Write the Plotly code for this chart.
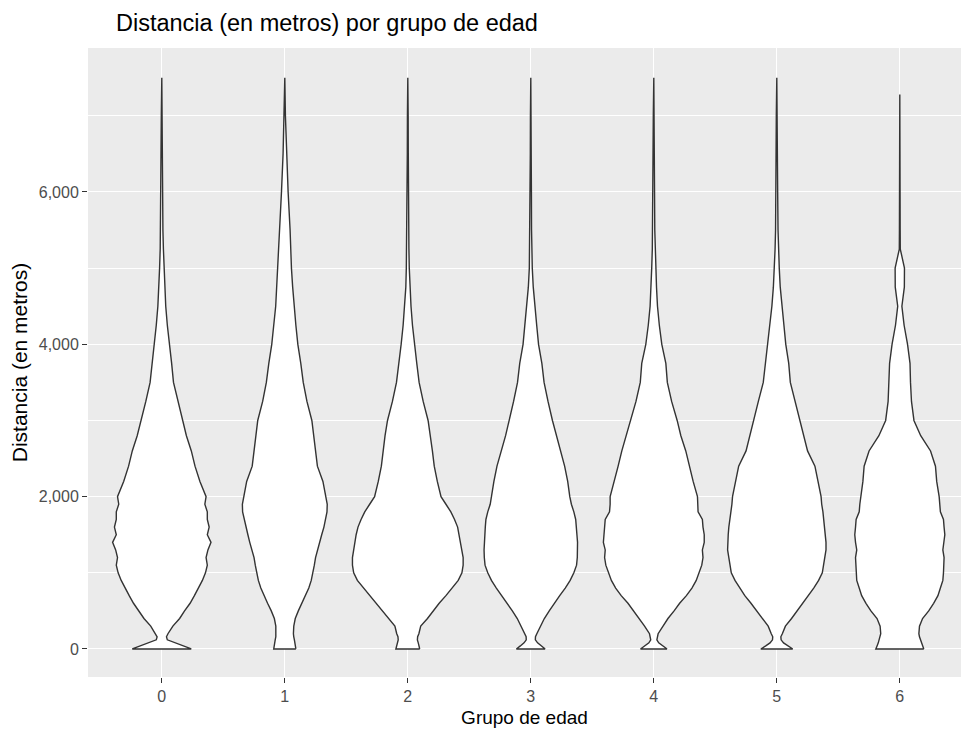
import plotly.graph_objects as go

# Age groups on the x axis
groups = ["0", "1", "2", "3", "4", "5", "6"]

# Distance levels (metres) at which each violin's half-width is given
levels = [0, 40, 80, 120, 160, 200, 300, 400, 500, 600, 700, 800, 900, 1000,
          1100, 1200, 1300, 1400, 1500, 1600, 1700, 1800, 1900, 2000, 2200,
          2400, 2600, 2800, 3000, 3250, 3500, 3750, 4000, 4250, 4500, 4750,
          5000, 5250, 5500, 6000, 6500, 7000]

# Half-width of each violin (in category units) at the levels above
hw_g0 = [0.24, 0.18, 0.11, 0.045, 0.038, 0.05, 0.09, 0.145, 0.185, 0.23, 0.265,
         0.30, 0.33, 0.355, 0.37, 0.36, 0.375, 0.40, 0.37, 0.385, 0.37, 0.37,
         0.35, 0.36, 0.31, 0.27, 0.24, 0.20, 0.17, 0.13, 0.095, 0.08, 0.06,
         0.045, 0.032, 0.024, 0.018, 0.013, 0.009, 0.006, 0.005, 0.004]
hw_g1 = [0.09, 0.088, 0.083, 0.078, 0.073, 0.07, 0.073, 0.085, 0.11, 0.14, 0.17,
         0.195, 0.215, 0.23, 0.24, 0.25, 0.265, 0.285, 0.30, 0.318, 0.33, 0.343,
         0.345, 0.335, 0.31, 0.265, 0.25, 0.235, 0.22, 0.18, 0.15, 0.13, 0.106,
         0.09, 0.074, 0.064, 0.054, 0.049, 0.043, 0.027, 0.014, 0.005]
hw_g2 = [0.097, 0.093, 0.085, 0.078, 0.08, 0.09, 0.105, 0.16, 0.205, 0.255, 0.31,
         0.36, 0.41, 0.44, 0.45, 0.45, 0.44, 0.43, 0.42, 0.405, 0.38, 0.35,
         0.31, 0.27, 0.24, 0.215, 0.20, 0.185, 0.165, 0.125, 0.092, 0.073, 0.054,
         0.038, 0.026, 0.016, 0.012, 0.009, 0.007, 0.005, 0.004, 0.003]
hw_g3 = [0.117, 0.085, 0.055, 0.037, 0.038, 0.049, 0.08, 0.11, 0.15, 0.19, 0.235,
         0.28, 0.32, 0.35, 0.372, 0.378, 0.38, 0.38, 0.375, 0.37, 0.365, 0.35,
         0.33, 0.317, 0.30, 0.275, 0.24, 0.205, 0.176, 0.14, 0.108, 0.09, 0.063,
         0.048, 0.033, 0.02, 0.012, 0.008, 0.006, 0.005, 0.004, 0.003]
hw_g4 = [0.108, 0.07, 0.04, 0.025, 0.028, 0.035, 0.075, 0.115, 0.165, 0.21, 0.265,
         0.31, 0.345, 0.366, 0.39, 0.40, 0.395, 0.41, 0.41, 0.40, 0.395, 0.36,
         0.355, 0.355, 0.32, 0.29, 0.26, 0.22, 0.19, 0.145, 0.11, 0.098, 0.065,
         0.045, 0.03, 0.022, 0.017, 0.012, 0.008, 0.006, 0.005, 0.004]
hw_g5 = [0.13, 0.09, 0.055, 0.035, 0.033, 0.045, 0.07, 0.12, 0.165, 0.21, 0.26,
         0.30, 0.34, 0.37, 0.38, 0.39, 0.40, 0.40, 0.395, 0.39, 0.385, 0.375,
         0.365, 0.36, 0.335, 0.31, 0.25, 0.22, 0.19, 0.15, 0.11, 0.097, 0.073,
         0.058, 0.04, 0.028, 0.02, 0.014, 0.01, 0.007, 0.005, 0.004]
hw_g6 = [0.195, 0.185, 0.175, 0.168, 0.16, 0.155, 0.16, 0.185, 0.235, 0.275, 0.31,
         0.33, 0.35, 0.355, 0.355, 0.36, 0.35, 0.36, 0.366, 0.36, 0.355, 0.33,
         0.325, 0.32, 0.30, 0.29, 0.25, 0.17, 0.115, 0.095, 0.087, 0.083, 0.063,
         0.035, 0.017, 0.037, 0.038, 0.004, 0.003, 0.003, 0.003, 0.002]

half_widths = [hw_g0, hw_g1, hw_g2, hw_g3, hw_g4, hw_g5, hw_g6]

# Largest distance observed in each group (top of each violin)
top_dist = [7500, 7500, 7500, 7500, 7500, 7500, 7280]

y_ticks = [0, 2000, 4000, 6000]

FONT = "Liberation Sans, Arial, sans-serif"

fig = go.Figure()

for i, (name, hw, top) in enumerate(zip(groups, half_widths, top_dist)):
    right_x = [i + h for h in hw] + [i]
    right_y = levels + [top]
    left_x = [i - h for h in reversed(hw)]
    left_y = list(reversed(levels))
    xs = right_x + left_x + [right_x[0]]
    ys = right_y + left_y + [right_y[0]]
    fig.add_trace(go.Scatter(
        x=xs, y=ys, mode="lines", fill="toself",
        fillcolor="white",
        line=dict(color="#333333", width=1.4),
        name=name, showlegend=False, hoverinfo="skip",
    ))

fig.update_layout(
    width=961, height=731,
    margin=dict(l=88, r=0, t=48, b=54),
    paper_bgcolor="white",
    plot_bgcolor="#EBEBEB",
    font=dict(family=FONT, color="black"),
    title=dict(text="Distancia (en metros) por grupo de edad",
               x=116 / 961, xanchor="left", xref="container",
               y=1 - 23 / 731, yanchor="middle", yref="container",
               font=dict(size=23.5, color="black", family=FONT)),
)

fig.update_xaxes(
    range=[-0.6, -0.6 + 873 / 123],
    tickmode="array", tickvals=list(range(len(groups))), ticktext=groups,
    showgrid=True, gridcolor="white", gridwidth=1.4,
    zeroline=False, showline=False,
    ticks="outside", ticklen=5, tickwidth=1.2, tickcolor="#333333",
    tickfont=dict(size=16, color="#4D4D4D", family=FONT),
    title=dict(text="Grupo de edad", standoff=6,
               font=dict(size=19, color="black", family=FONT)),
)

fig.update_yaxes(
    range=[-368, 7890],
    tickmode="array", tickvals=y_ticks,
    ticktext=[f"{v:,}" for v in y_ticks],
    showgrid=True, gridcolor="white", gridwidth=1.4,
    minor=dict(dtick=1000, tick0=0, showgrid=True, gridcolor="white",
               gridwidth=0.7, ticks=""),
    zeroline=False, showline=False,
    ticks="outside", ticklen=5, tickwidth=1.2, tickcolor="#333333",
    tickfont=dict(size=16, color="#4D4D4D", family=FONT),
    title=dict(text="Distancia (en metros)", standoff=5,
               font=dict(size=21, color="black", family=FONT)),
)

fig.write_html("out.html")
